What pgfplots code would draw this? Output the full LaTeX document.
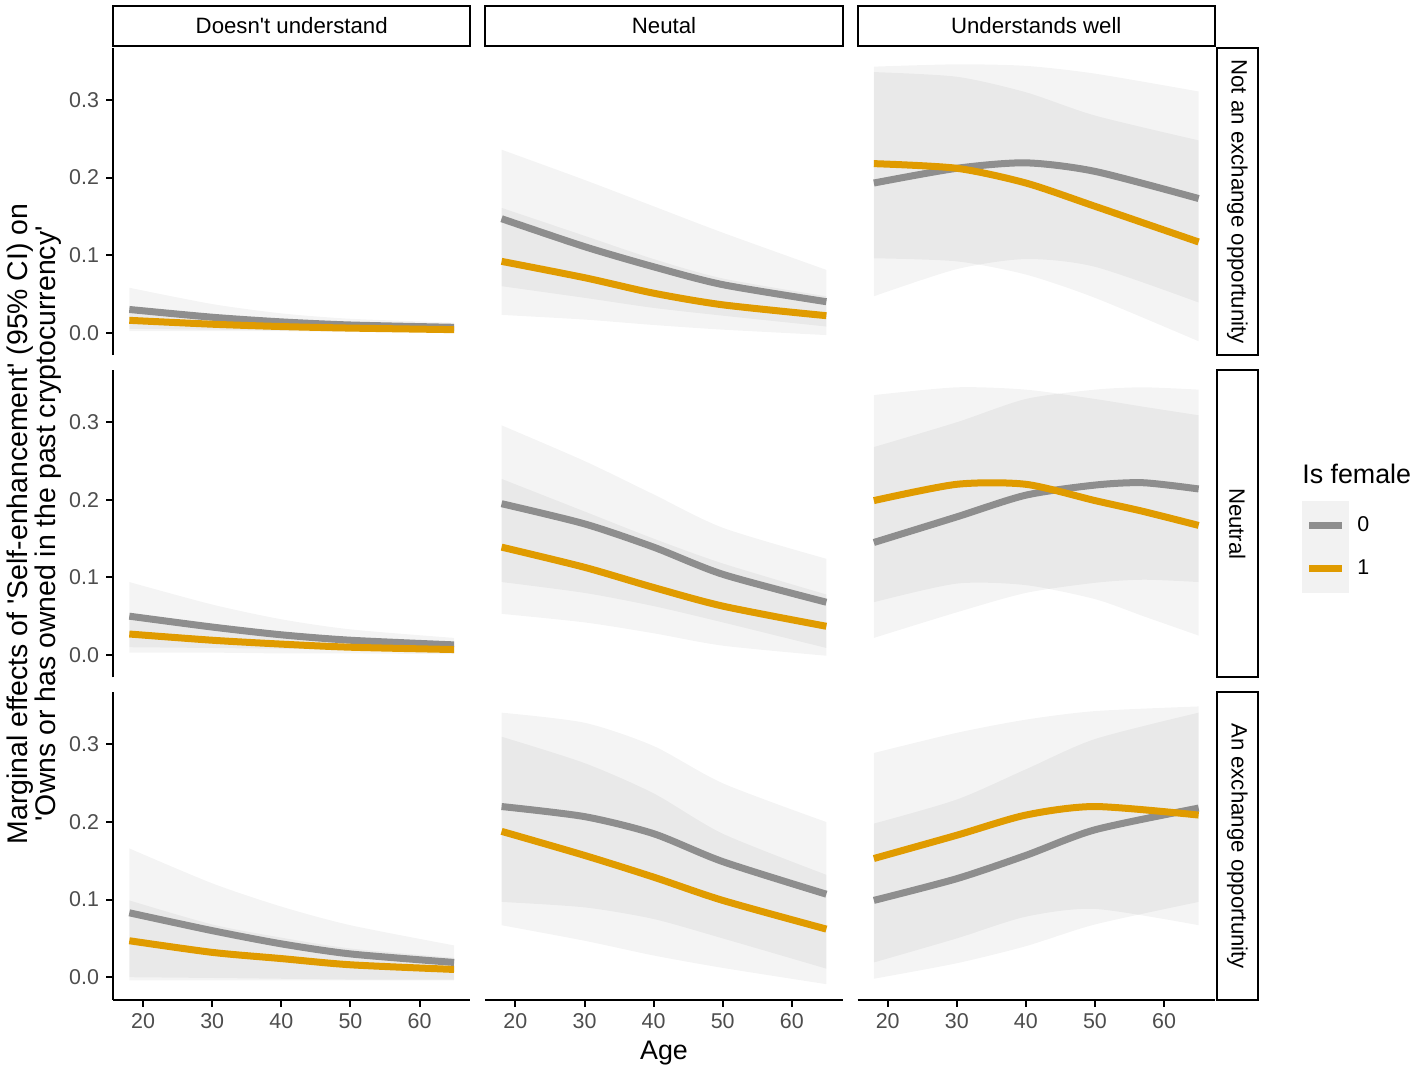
\documentclass[border=0pt]{standalone}
\usepackage{fontspec}
\setmainfont{Liberation Sans}
\usepackage{pgfplots}
\pgfplotsset{compat=1.18}
\usepackage{pgfplotstable}
\usepgfplotslibrary{groupplots,fillbetween}
\usetikzlibrary{calc}

\definecolor{ggray}{HTML}{8E8E8E}
\definecolor{gorange}{HTML}{E09B00}
\definecolor{grey30}{HTML}{4D4D4D}

% columns: age, gray (Is female = 0) est/lo/hi, orange (= 1) est/lo/hi
\pgfplotstableread{
age g gl gh o ol oh
18 0.030 0.005 0.058 0.016 0.002 0.032
30 0.020 0.004 0.037 0.011 0.002 0.022
40 0.014 0.003 0.025 0.008 0.002 0.016
50 0.010 0.003 0.018 0.006 0.001 0.012
65 0.007 0.002 0.013 0.004 0.001 0.008
}\tabAA
\pgfplotstableread{
age g gl gh o ol oh
18 0.147 0.060 0.236 0.092 0.023 0.161
30 0.111 0.045 0.197 0.071 0.017 0.125
40 0.085 0.032 0.163 0.051 0.010 0.095
50 0.062 0.022 0.129 0.036 0.004 0.070
65 0.040 0.008 0.081 0.022 -0.003 0.047
}\tabAB
\pgfplotstableread{
age g gl gh o ol oh
18 0.193 0.047 0.343 0.218 0.096 0.336
30 0.212 0.082 0.346 0.212 0.092 0.330
40 0.219 0.095 0.344 0.193 0.075 0.310
50 0.208 0.085 0.334 0.163 0.045 0.280
65 0.173 0.039 0.311 0.117 -0.011 0.248
}\tabAC
\pgfplotstableread{
age g gl gh o ol oh
18 0.050 0.010 0.094 0.027 0.003 0.050
30 0.036 0.009 0.065 0.019 0.003 0.036
40 0.026 0.008 0.046 0.014 0.002 0.026
50 0.019 0.007 0.033 0.010 0.002 0.019
65 0.013 0.005 0.022 0.007 0.001 0.013
}\tabBA
\pgfplotstableread{
age g gl gh o ol oh
18 0.195 0.094 0.296 0.139 0.053 0.227
30 0.169 0.080 0.250 0.113 0.042 0.185
40 0.139 0.063 0.207 0.087 0.028 0.150
50 0.104 0.042 0.164 0.063 0.012 0.118
65 0.068 0.009 0.124 0.037 -0.001 0.078
}\tabBB
\pgfplotstableread{
age g gl gh o ol oh
18 0.145 0.022 0.268 0.199 0.068 0.335
30 0.178 0.055 0.300 0.220 0.092 0.345
40 0.206 0.080 0.330 0.220 0.090 0.342
50 0.219 0.093 0.342 0.199 0.072 0.330
57 0.222 0.097 0.345 0.185 0.050 0.320
65 0.214 0.094 0.342 0.167 0.025 0.309
}\tabBC
\pgfplotstableread{
age g gl gh o ol oh
18 0.083 0.000 0.166 0.047 -0.004 0.099
30 0.060 -0.001 0.121 0.032 -0.004 0.068
40 0.043 -0.002 0.091 0.024 -0.004 0.051
50 0.030 -0.003 0.067 0.016 -0.004 0.037
65 0.019 -0.003 0.041 0.010 -0.004 0.025
}\tabCA
\pgfplotstableread{
age g gl gh o ol oh
18 0.220 0.097 0.341 0.188 0.067 0.310
30 0.207 0.090 0.328 0.157 0.047 0.276
40 0.185 0.075 0.298 0.129 0.028 0.237
50 0.149 0.050 0.250 0.099 0.012 0.185
65 0.107 0.011 0.200 0.062 -0.009 0.132
}\tabCB
\pgfplotstableread{
age g gl gh o ol oh
18 0.099 -0.002 0.198 0.153 0.019 0.289
30 0.127 0.018 0.229 0.183 0.050 0.315
40 0.157 0.040 0.268 0.209 0.078 0.332
50 0.190 0.068 0.307 0.220 0.088 0.343
65 0.218 0.097 0.341 0.209 0.067 0.349
}\tabCC

\newcommand{\panel}[1]{%
  \addplot[name path=gh, draw=none, smooth, forget plot] table[x=age, y=gh] {#1};
  \addplot[name path=gl, draw=none, smooth, forget plot] table[x=age, y=gl] {#1};
  \addplot[name path=oh, draw=none, smooth, forget plot] table[x=age, y=oh] {#1};
  \addplot[name path=ol, draw=none, smooth, forget plot] table[x=age, y=ol] {#1};
  \addplot[band, forget plot] fill between[of=gh and gl];
  \addplot[band, forget plot] fill between[of=oh and ol];
  \addplot[ggray, line width=3.5pt, smooth] table[x=age, y=g] {#1};
  \addplot[gorange, line width=3.5pt, smooth] table[x=age, y=o] {#1};
}

\tikzset{
  band/.style={fill=black, fill opacity=0.045, draw=none},
  strip/.style={draw=black, line width=1pt, fill=white},
  striptext/.style={font=\fontsize{11.1}{13}\selectfont, text=black},
}

\begin{document}
\begin{tikzpicture}
\begin{groupplot}[
  group style={group size=3 by 3, horizontal sep=7.5pt, vertical sep=7.5pt, group name=g},
  scale only axis, width=178.5pt, height=153.5pt,
  xmin=15.65, xmax=67.35, ymin=-0.029, ymax=0.367,
  axis x line*=bottom, axis y line*=left,
  axis line style={line width=1pt, black},
  xtick={20,30,40,50,60}, ytick={0,0.1,0.2,0.3},
  tick align=outside, major tick length=3.5pt,
  tick style={line width=1pt, black},
  ticklabel style={font=\fontsize{10.7}{12}\selectfont, text=grey30},
  /pgf/number format/assume math mode=true,
  yticklabel style={/pgf/number format/fixed, /pgf/number format/fixed zerofill, /pgf/number format/precision=1},
  every axis plot/.append style={tension=0.45},
]
\nextgroupplot[xtick=\empty, x axis line style={draw=none}]
\panel{\tabAA}
\nextgroupplot[xtick=\empty, x axis line style={draw=none}, ytick=\empty, y axis line style={draw=none}]
\panel{\tabAB}
\nextgroupplot[xtick=\empty, x axis line style={draw=none}, ytick=\empty, y axis line style={draw=none}]
\panel{\tabAC}
\nextgroupplot[xtick=\empty, x axis line style={draw=none}]
\panel{\tabBA}
\nextgroupplot[xtick=\empty, x axis line style={draw=none}, ytick=\empty, y axis line style={draw=none}]
\panel{\tabBB}
\nextgroupplot[xtick=\empty, x axis line style={draw=none}, ytick=\empty, y axis line style={draw=none},
  legend style={at={(1.2437,0.577)}, anchor=north west, draw=none, fill=none, inner sep=0pt,
    row sep=-3pt, font=\fontsize{10.7}{12}\selectfont, cells={anchor=west},
    nodes={inner xsep=4pt, inner ysep=0pt}},
  legend image code/.code={\fill[black!5] (0pt,-10.5pt) rectangle (20pt,10.5pt);
    \draw[#1] (1.75pt,0pt) -- (18.25pt,0pt);}]
\panel{\tabBC}
\legend{0,1}
\nextgroupplot[]
\panel{\tabCA}
\nextgroupplot[ytick=\empty, y axis line style={draw=none}]
\panel{\tabCB}
\nextgroupplot[ytick=\empty, y axis line style={draw=none}]
\panel{\tabCC}
\end{groupplot}

% facet strips
\foreach \c/\lab in {1/{Doesn\textquotesingle t understand}, 2/{Neutal}, 3/{Understands well}} {
  \draw[strip] ($(g c\c r1.north west)+(0,1pt)$) rectangle ($(g c\c r1.north east)+(0,21pt)$)
    node[midway, striptext] {\lab};
}
\foreach \r/\lab in {1/{Not an exchange opportunity}, 2/{Neutral}, 3/{An exchange opportunity}} {
  \draw[strip] ($(g c3r\r.north east)+(1pt,0)$) rectangle ($(g c3r\r.south east)+(21.5pt,0)$)
    node[midway, striptext, rotate=-90] {\lab};
}

% axis titles
\node[rotate=90, align=center, font=\fontsize{14.2}{12.8}\selectfont]
  at ($(g c1r2.west)+(-39.5pt,0)$)
  {Marginal effects of \textquotesingle Self-enhancement\textquotesingle{} (95\% CI) on\\
   \textquotesingle Owns or has owned in the past cryptocurrency\textquotesingle};
\node[font=\fontsize{13.4}{16}\selectfont] at ($(g c2r3.south)+(0,-26.5pt)$) {Age};

% legend title
\node[anchor=west, inner sep=0pt, font=\fontsize{13.4}{16}\selectfont]
  at ($(g c3r2.north east)+(43.5pt,-52pt)$) {Is female};

\pgfresetboundingbox
\path ($(g c1r1.north west)+(-56.5pt,24pt)$) rectangle ($(g c3r3.south east)+(102pt,-36.5pt)$);
\end{tikzpicture}
\end{document}
